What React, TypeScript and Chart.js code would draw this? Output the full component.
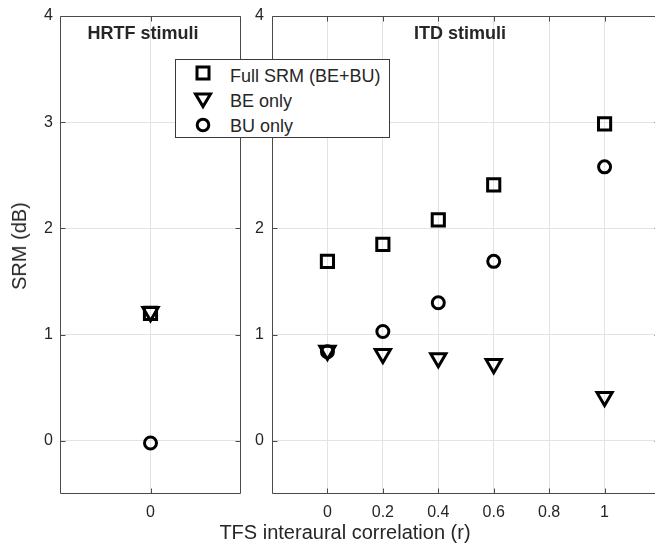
import React, { useEffect, useRef } from 'react';
import { Chart, registerables } from 'chart.js';

Chart.register(...registerables);

const FONT = "'Liberation Sans', Arial, Helvetica, sans-serif";
const TEXT = '#262626';

// ---- data ----
const hrtfX = [0];
const hrtfFull = [1.2];
const hrtfBE = [1.215];
const hrtfBU = [-0.02];

const itdR = [0, 0.2, 0.4, 0.6, 1];
const itdFull = [1.69, 1.85, 2.08, 2.41, 2.985];
const itdBE = [0.85, 0.82, 0.78, 0.725, 0.415];
const itdBU = [0.84, 1.03, 1.3, 1.69, 2.58];

const yTicks = [0, 1, 2, 3, 4];
const hrtfTicks = [0];
const rTicks = [0, 0.2, 0.4, 0.6, 0.8, 1];

const seriesNames = ['Full SRM (BE+BU)', 'BE only', 'BU only'];

const boxPlugin = {
  id: 'matlabBox',
  beforeDatasetsDraw(chart: any) {
    const { ctx, chartArea: a, scales } = chart;
    ctx.save();
    ctx.strokeStyle = '#4a4a4a';
    ctx.lineWidth = 1;
    const l = Math.round(a.left) + 0.5;
    const r = Math.round(a.right) - 0.5;
    const t = Math.round(a.top) + 0.5;
    const b = Math.round(a.bottom) - 0.5;
    ctx.beginPath();
    ctx.rect(l, t, r - l, b - t);
    const tl = 5;
    scales.x.ticks.forEach((tk: any) => {
      const px = Math.round(scales.x.getPixelForValue(tk.value)) + 0.5;
      ctx.moveTo(px, t);
      ctx.lineTo(px, t + tl);
      ctx.moveTo(px, b);
      ctx.lineTo(px, b - tl);
    });
    scales.y.ticks.forEach((tk: any) => {
      const py = Math.round(scales.y.getPixelForValue(tk.value)) + 0.5;
      ctx.moveTo(l, py);
      ctx.lineTo(l + tl, py);
      ctx.moveTo(r, py);
      ctx.lineTo(r - tl, py);
    });
    ctx.stroke();
    ctx.restore();
  },
};

function makeDatasets(xs: number[], full: number[], be: number[], bu: number[]) {
  const common = {
    borderColor: '#000',
    backgroundColor: 'rgba(0,0,0,0)',
    pointBorderWidth: 3,
    borderWidth: 3,
    showLine: false,
  };
  return [
    {
      ...common,
      label: seriesNames[2],
      data: xs.map((x, i) => ({ x, y: bu[i] })),
      pointStyle: 'circle',
      pointRadius: 6,
      pointBorderWidth: 3,
    },
    {
      ...common,
      label: seriesNames[1],
      data: xs.map((x, i) => ({ x, y: be[i] })),
      pointStyle: 'triangle',
      pointRotation: 180,
      pointRadius: 8.8,
    },
    {
      ...common,
      label: seriesNames[0],
      data: xs.map((x, i) => ({ x, y: full[i] })),
      pointStyle: 'rect',
      pointRadius: 8.6,
    },
  ];
}

function makeOptions(
  xMin: number,
  xMax: number,
  xTickVals: number[],
  yAxisWidth: number,
  yLabelPad: number,
  padRight: number
) {
  return {
    responsive: false,
    animation: false,
    devicePixelRatio: 1,
    events: [],
    layout: { autoPadding: false, padding: { top: 16, right: padRight, left: 0, bottom: 0 } },
    plugins: { legend: { display: false }, tooltip: { enabled: false }, title: { display: false } },
    scales: {
      x: {
        type: 'linear',
        min: xMin,
        max: xMax,
        afterBuildTicks: (s: any) => {
          s.ticks = xTickVals.map((v) => ({ value: v }));
        },
        afterFit: (s: any) => {
          s.height = 52;
          s.paddingLeft = 0;
          s.paddingRight = 0;
          s.paddingTop = 0;
          s.paddingBottom = 0;
        },
        grid: { color: '#e3e3e3', lineWidth: 1, drawTicks: false },
        border: { display: false },
        ticks: {
          padding: 9,
          color: TEXT,
          font: { family: FONT, size: 16 },
          maxRotation: 0,
          autoSkip: false,
          callback: (v: any) => String(Number(Number(v).toFixed(1))),
        },
      },
      y: {
        type: 'linear',
        min: -0.5,
        max: 4,
        afterBuildTicks: (s: any) => {
          s.ticks = yTicks.map((v) => ({ value: v }));
        },
        afterFit: (s: any) => {
          s.width = yAxisWidth;
          s.paddingLeft = 0;
          s.paddingRight = 0;
          s.paddingTop = 0;
          s.paddingBottom = 0;
        },
        grid: { color: '#e3e3e3', lineWidth: 1, drawTicks: false },
        border: { display: false },
        ticks: {
          padding: yLabelPad,
          color: TEXT,
          font: { family: FONT, size: 16 },
          autoSkip: false,
          callback: (v: any) => String(v),
        },
      },
    },
  };
}

function Square() {
  return (
    <svg width={20} height={20} style={{ position: 'absolute', left: 193, top: 63 }}>
      <rect x={4} y={4} width={12} height={12} fill="none" stroke="#000" strokeWidth={3} />
    </svg>
  );
}
function Tri() {
  return (
    <svg width={24} height={22} style={{ position: 'absolute', left: 191, top: 89 }}>
      <polygon points="4.5,5 19.5,5 12,17.5" fill="none" stroke="#000" strokeWidth={3} />
    </svg>
  );
}
function Circ() {
  return (
    <svg width={20} height={20} style={{ position: 'absolute', left: 193, top: 115 }}>
      <circle cx={10} cy={10} r={5.8} fill="none" stroke="#000" strokeWidth={3} />
    </svg>
  );
}

export default function App() {
  const leftRef = useRef<HTMLCanvasElement | null>(null);
  const rightRef = useRef<HTMLCanvasElement | null>(null);

  useEffect(() => {
    const c1 = new Chart(leftRef.current as HTMLCanvasElement, {
      type: 'scatter',
      data: { datasets: makeDatasets(hrtfX, hrtfFull, hrtfBE, hrtfBU) as any },
      options: makeOptions(-1, 1, hrtfTicks, 60, 7, 4) as any,
      plugins: [boxPlugin],
    });
    const c2 = new Chart(rightRef.current as HTMLCanvasElement, {
      type: 'scatter',
      data: { datasets: makeDatasets(itdR, itdFull, itdBE, itdBU) as any },
      options: makeOptions(-0.2, 1.2, rTicks, 27, 8, 0) as any,
      plugins: [boxPlugin],
    });
    return () => {
      c1.destroy();
      c2.destroy();
    };
  }, []);

  const text: React.CSSProperties = {
    position: 'absolute',
    fontFamily: FONT,
    color: TEXT,
    whiteSpace: 'nowrap',
    lineHeight: '18px',
    fontSize: 18,
  };

  return (
    <div
      style={{
        position: 'absolute',
        left: 0,
        top: 0,
        width: 655,
        height: 546,
        overflow: 'hidden',
        background: '#fff',
      }}
    >
      <canvas
        ref={leftRef}
        width={245}
        height={546}
        style={{ position: 'absolute', left: 0, top: 0, width: 245, height: 546 }}
      />
      <canvas
        ref={rightRef}
        width={415}
        height={546}
        style={{ position: 'absolute', left: 245, top: 0, width: 415, height: 546 }}
      />
      <div style={{ ...text, fontWeight: 'bold', left: 143, top: 24, transform: 'translateX(-50%)' }}>
        HRTF stimuli
      </div>
      <div style={{ ...text, fontWeight: 'bold', left: 460, top: 24, transform: 'translateX(-50%)' }}>
        ITD stimuli
      </div>
      <div
        style={{
          ...text,
          fontSize: 20,
          lineHeight: '20px',
          left: 345,
          top: 522,
          transform: 'translateX(-50%)',
        }}
      >
        TFS interaural correlation (r)
      </div>
      <div
        style={{
          ...text,
          fontSize: 20,
          lineHeight: '20px',
          left: 19,
          top: 246,
          transform: 'translate(-50%, -50%) rotate(-90deg)',
        }}
      >
        SRM (dB)
      </div>
      <div
        style={{
          position: 'absolute',
          left: 175,
          top: 59,
          width: 215,
          height: 79,
          boxSizing: 'border-box',
          border: '1px solid #3a3a3a',
          background: '#fff',
        }}
      />
      <Square />
      <Tri />
      <Circ />
      <div style={{ ...text, left: 230, top: 67 }}>{seriesNames[0]}</div>
      <div style={{ ...text, left: 230, top: 92 }}>{seriesNames[1]}</div>
      <div style={{ ...text, left: 230, top: 117 }}>{seriesNames[2]}</div>
    </div>
  );
}
